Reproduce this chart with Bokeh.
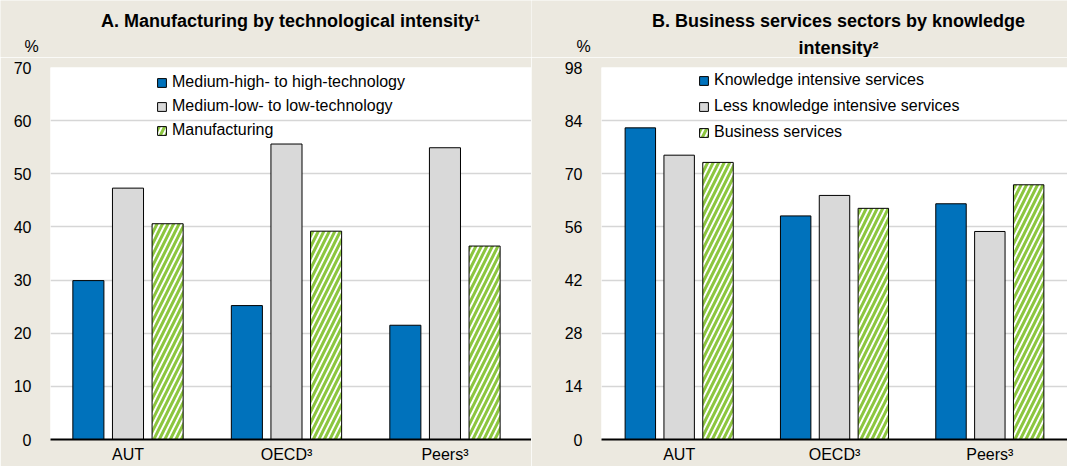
from bokeh.plotting import figure
from bokeh.models import (ColumnDataSource, Range1d, FixedTicker,
                          Label, Legend, LegendItem)
from bokeh.transform import dodge
from bokeh.layouts import row, column
from bokeh.embed import file_html
from bokeh.resources import INLINE

# ---------------- data ----------------
categories = ["AUT", "OECD³", "Peers³"]

a_title = ["A. Manufacturing by technological intensity¹"]
a_labels = ["Medium-high- to high-technology", "Medium-low- to low-technology", "Manufacturing"]
a_high = [29.9, 25.2, 21.5]
a_low = [47.3, 55.6, 54.9]
a_manu = [40.6, 39.2, 36.4]
a_ticks = [0, 10, 20, 30, 40, 50, 60, 70]

b_title = ["B. Business services sectors by knowledge", "intensity²"]
b_labels = ["Knowledge intensive services", "Less knowledge intensive services", "Business services"]
b_kis = [82.1, 58.9, 62.1]
b_lkis = [74.9, 64.3, 54.8]
b_bs = [73.0, 60.9, 67.1]
b_ticks = [0, 14, 28, 42, 56, 70, 84, 98]

# ---------------- style ----------------
BG = "#ECE9E0"
BLUE = "#0072BC"
GREY = "#D9D9D9"
GREEN = "#8CC63F"
FONT = "Liberation Sans"
HEAD_H = 57
CH_H = 466 - HEAD_H
TOP = 10
BOTTOM = 27
FRAME_H = CH_H - TOP - BOTTOM
FS = "16px"


def make_header(width, titles, title_cx, pct_x):
    h = figure(width=width, height=HEAD_H, x_range=Range1d(0, width), y_range=Range1d(0, HEAD_H),
               output_backend="svg", toolbar_location=None, min_border=0,
               background_fill_color=BG, border_fill_color=BG, outline_line_color=None)
    h.axis.visible = False
    h.grid.visible = False
    ys = [HEAD_H - 20, HEAD_H - 47] if len(titles) == 2 else [HEAD_H - 20]
    for t, y in zip(titles, ys):
        h.add_layout(Label(x=title_cx, y=y, text=t, text_align="center", text_baseline="middle",
                           text_font=FONT, text_font_size="18px", text_font_style="bold",
                           text_color="black"))
    h.add_layout(Label(x=pct_x, y=HEAD_H - 46, text="%", text_align="center",
                       text_baseline="middle", text_font=FONT, text_font_size=FS,
                       text_color="black"))
    return h


def make_panel(width, bl, br, xr, ticks, s1, s2, s3, labels, legend_x, legend_top, spacing):
    idx = list(range(len(categories)))
    src = ColumnDataSource(dict(x=idx, s1=s1, s2=s2, s3=s3))
    p = figure(x_range=Range1d(*xr), y_range=Range1d(0, ticks[-1]),
               width=width, height=CH_H, output_backend="svg", toolbar_location=None,
               min_border_left=bl, min_border_right=br, min_border_top=TOP,
               min_border_bottom=BOTTOM, background_fill_color="white",
               border_fill_color=BG, outline_line_color=None)

    r1 = p.vbar(x=dodge("x", -0.25), top="s1", width=0.196, source=src,
                fill_color=BLUE, line_color="black", line_width=1)
    r2 = p.vbar(x=dodge("x", 0.0), top="s2", width=0.196, source=src,
                fill_color=GREY, line_color="black", line_width=1)
    r3 = p.vbar(x=dodge("x", 0.25), top="s3", width=0.196, source=src,
                fill_color="white", line_color="black", line_width=1,
                hatch_pattern="/", hatch_color=GREEN, hatch_scale=11, hatch_weight=3)

    p.xgrid.grid_line_color = None
    p.ygrid.grid_line_color = "#D6D6D6"
    p.ygrid.grid_line_width = 1.5
    p.yaxis.ticker = FixedTicker(ticks=ticks)
    p.yaxis.axis_line_color = None
    p.yaxis.major_tick_line_color = None
    p.yaxis.major_tick_out = 0
    p.yaxis.minor_tick_line_color = None
    p.yaxis.major_label_standoff = 19
    p.xaxis.ticker = FixedTicker(ticks=idx)
    p.xaxis.major_label_overrides = {i: c for i, c in zip(idx, categories)}
    p.xaxis.axis_line_color = "black"
    p.xaxis.axis_line_width = 2
    p.xaxis.major_tick_line_color = None
    p.xaxis.major_tick_out = 0
    p.xaxis.minor_tick_line_color = None
    p.xaxis.major_label_standoff = 6
    for ax in (p.xaxis[0], p.yaxis[0]):
        ax.major_label_text_font = FONT
        ax.major_label_text_font_size = FS
        ax.major_label_text_color = "black"

    lab_h = 20
    leg_h = 3 * lab_h + 2 * spacing
    legend = Legend(items=[LegendItem(label=labels[0], renderers=[r1]),
                           LegendItem(label=labels[1], renderers=[r2]),
                           LegendItem(label=labels[2], renderers=[r3])],
                    location=(legend_x, FRAME_H - legend_top - leg_h), padding=0, margin=0,
                    spacing=spacing, label_height=lab_h, glyph_height=11, glyph_width=11,
                    label_standoff=5, background_fill_alpha=0, border_line_alpha=0,
                    label_text_font=FONT, label_text_font_size=FS, label_text_color="black")
    p.add_layout(legend)
    return p


WA = 531
WB = 1067 - WA
hA = make_header(WA, a_title, 290, 31)
hB = make_header(WB, b_title, 838 - WA, 583 - WA)
pA = make_panel(WA, 50, 0, (-0.489, 2.546), a_ticks, a_high, a_low, a_manu, a_labels, 106, 5, 4)
pB = make_panel(WB, 601 - WA, 0, (-0.5, 2.5), b_ticks, b_kis, b_lkis, b_bs, b_labels, 97, 3, 6)

layout = column(row(hA, hB, spacing=0), row(pA, pB, spacing=0), spacing=0)
open("out.html", "w").write(file_html(layout, INLINE))
